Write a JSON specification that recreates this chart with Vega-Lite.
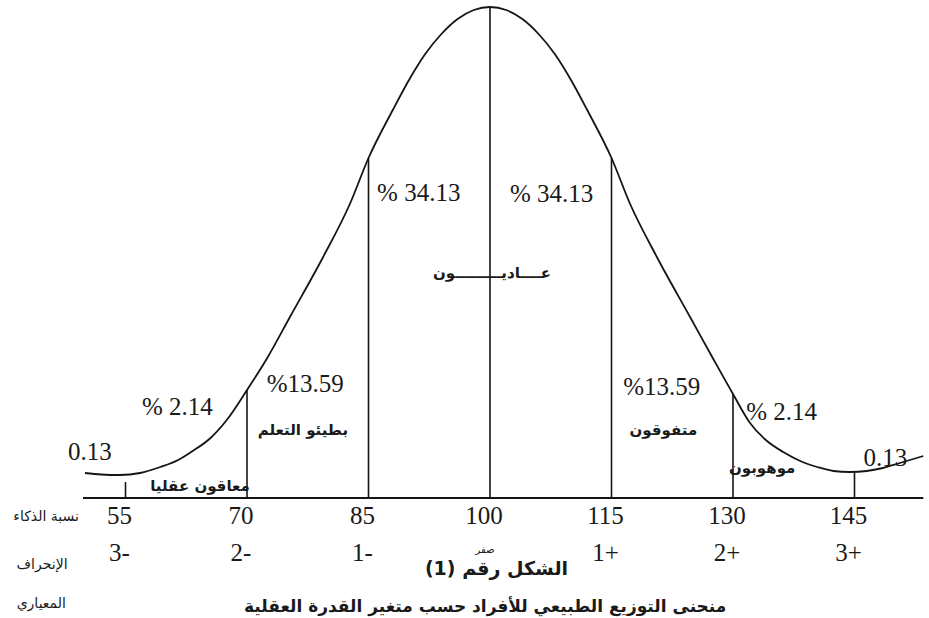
{
  "$schema": "https://vega.github.io/schema/vega-lite/v6.json",
  "width": 929,
  "height": 618,
  "autosize": "none",
  "padding": 0,
  "background": "#ffffff",
  "config": {"view": {"stroke": null}},
  "datasets": {
    "curve": [
      {"iq": 50.0, "height": 25}, {"iq": 52.0, "height": 23.5}, {"iq": 54.3, "height": 23},
      {"iq": 56.8, "height": 25}, {"iq": 59.3, "height": 31}, {"iq": 61.5, "height": 38},
      {"iq": 63.3, "height": 47}, {"iq": 65.5, "height": 60}, {"iq": 67.5, "height": 78},
      {"iq": 70, "height": 108}, {"iq": 72.5, "height": 140}, {"iq": 75.3, "height": 181},
      {"iq": 79.4, "height": 241}, {"iq": 82.7, "height": 294}, {"iq": 85, "height": 340},
      {"iq": 88, "height": 388}, {"iq": 90, "height": 418}, {"iq": 92, "height": 444},
      {"iq": 94, "height": 464}, {"iq": 96, "height": 479}, {"iq": 98, "height": 488},
      {"iq": 100, "height": 491},
      {"iq": 102, "height": 488}, {"iq": 104, "height": 479}, {"iq": 106, "height": 464},
      {"iq": 108, "height": 444}, {"iq": 110, "height": 418}, {"iq": 112, "height": 388},
      {"iq": 115, "height": 340}, {"iq": 117.3, "height": 294}, {"iq": 120.6, "height": 241},
      {"iq": 124.7, "height": 181}, {"iq": 127.5, "height": 140}, {"iq": 130, "height": 104},
      {"iq": 132.1, "height": 75}, {"iq": 134.2, "height": 57}, {"iq": 136.2, "height": 46},
      {"iq": 138.3, "height": 37}, {"iq": 140.4, "height": 31}, {"iq": 142.4, "height": 27},
      {"iq": 144.4, "height": 26}, {"iq": 146.5, "height": 27}, {"iq": 148.5, "height": 30},
      {"iq": 150.6, "height": 35}, {"iq": 153.5, "height": 42}
    ],
    "baseline": [{"from": 49.75, "to": 153.5, "level": 0}],
    "ticks": [
      {"iq": 55, "top": 16, "bottom": 0},
      {"iq": 70, "top": 108, "bottom": 0},
      {"iq": 85, "top": 340, "bottom": 0},
      {"iq": 100, "top": 491, "bottom": 0},
      {"iq": 115, "top": 340, "bottom": 0},
      {"iq": 130, "top": 104, "bottom": 0},
      {"iq": 145, "top": 26, "bottom": 0}
    ],
    "pct": [
      {"iq": 50.6, "height": 46, "label": "0.13"},
      {"iq": 61.4, "height": 91, "label": "% 2.14"},
      {"iq": 77.2, "height": 114, "label": "%13.59"},
      {"iq": 91.2, "height": 305, "label": "% 34.13"},
      {"iq": 107.6, "height": 304, "label": "% 34.13"},
      {"iq": 121.2, "height": 111, "label": "%13.59"},
      {"iq": 136.0, "height": 86, "label": "% 2.14"},
      {"iq": 148.8, "height": 40, "label": "0.13"}
    ],
    "groups": [
      {"iq": 64.2, "height": 12, "label": "معاقون عقليا"},
      {"iq": 76.9, "height": 68, "label": "بطيئو التعلم"},
      {"iq": 100.25, "height": 225, "label": "عــــاديـــــــــون"},
      {"iq": 121.4, "height": 68, "label": "متفوقون"},
      {"iq": 133.6, "height": 30, "label": "موهوبون"}
    ],
    "axisTitles": [
      {"iq": 45.2, "height": -19, "label": "نسبة الذكاء"},
      {"iq": 44.7, "height": -67, "label": "الإنحراف"},
      {"iq": 44.6, "height": -106, "label": "المعياري"}
    ],
    "tickRows": [
      {"iq": 55, "row": -18, "label": "55", "kind": "num"},
      {"iq": 70, "row": -18, "label": "70", "kind": "num"},
      {"iq": 85, "row": -18, "label": "85", "kind": "num"},
      {"iq": 100, "row": -18, "label": "100", "kind": "num"},
      {"iq": 115, "row": -18, "label": "115", "kind": "num"},
      {"iq": 130, "row": -18, "label": "130", "kind": "num"},
      {"iq": 145, "row": -18, "label": "145", "kind": "num"},
      {"iq": 55, "row": -55, "label": "3-", "kind": "num"},
      {"iq": 70, "row": -55, "label": "2-", "kind": "num"},
      {"iq": 85, "row": -55, "label": "1-", "kind": "num"},
      {"iq": 100, "row": -52, "label": "صفر", "kind": "word"},
      {"iq": 115, "row": -55, "label": "1+", "kind": "num"},
      {"iq": 130, "row": -55, "label": "2+", "kind": "num"},
      {"iq": 145, "row": -55, "label": "3+", "kind": "num"}
    ],
    "captions": [
      {"iq": 100.8, "height": -71, "label": "الشكل رقم (1)", "kind": "figure"},
      {"iq": 99.4, "height": -109, "label": "منحنى التوزيع الطبيعي للأفراد حسب متغير القدرة العقلية", "kind": "title"}
    ]
  },
  "encoding": {
    "x": {"type": "quantitative", "scale": {"domain": [39.506, 154.198], "nice": false, "zero": false}, "axis": null},
    "y": {"type": "quantitative", "scale": {"domain": [-120, 498], "nice": false, "zero": false}, "axis": null}
  },
  "layer": [
    {
      "data": {"name": "curve"},
      "mark": {"type": "line", "interpolate": "monotone", "color": "#151515", "strokeWidth": 1.8},
      "encoding": {
        "x": {"field": "iq", "type": "quantitative"},
        "y": {"field": "height", "type": "quantitative"}
      }
    },
    {
      "data": {"name": "baseline"},
      "mark": {"type": "rule", "color": "#151515", "strokeWidth": 2},
      "encoding": {
        "x": {"field": "from", "type": "quantitative"},
        "x2": {"field": "to"},
        "y": {"field": "level", "type": "quantitative"}
      }
    },
    {
      "data": {"name": "ticks"},
      "mark": {"type": "rule", "color": "#151515", "strokeWidth": 1.6},
      "encoding": {
        "x": {"field": "iq", "type": "quantitative"},
        "y": {"field": "top", "type": "quantitative"},
        "y2": {"field": "bottom"}
      }
    },
    {
      "data": {"name": "tickRows"},
      "transform": [{"filter": "datum.kind === 'num'"}],
      "mark": {"type": "text", "font": "Liberation Serif", "fontSize": 25, "color": "#1a1a1a", "baseline": "middle", "align": "center", "dx": -6},
      "encoding": {
        "x": {"field": "iq", "type": "quantitative"},
        "y": {"field": "row", "type": "quantitative"},
        "text": {"field": "label", "type": "nominal"}
      }
    },
    {
      "data": {"name": "tickRows"},
      "transform": [{"filter": "datum.kind === 'word'"}],
      "mark": {"type": "text", "font": "DejaVu Sans", "fontSize": 10, "color": "#1a1a1a", "baseline": "middle", "align": "center", "dx": -5},
      "encoding": {
        "x": {"field": "iq", "type": "quantitative"},
        "y": {"field": "row", "type": "quantitative"},
        "text": {"field": "label", "type": "nominal"}
      }
    },
    {
      "data": {"name": "pct"},
      "mark": {"type": "text", "font": "Liberation Serif", "fontSize": 25, "color": "#1a1a1a", "baseline": "middle", "align": "center"},
      "encoding": {
        "x": {"field": "iq", "type": "quantitative"},
        "y": {"field": "height", "type": "quantitative"},
        "text": {"field": "label", "type": "nominal"}
      }
    },
    {
      "data": {"name": "groups"},
      "mark": {"type": "text", "font": "DejaVu Sans", "fontSize": 15, "fontWeight": "bold", "color": "#1a1a1a", "baseline": "middle", "align": "center"},
      "encoding": {
        "x": {"field": "iq", "type": "quantitative"},
        "y": {"field": "height", "type": "quantitative"},
        "text": {"field": "label", "type": "nominal"}
      }
    },
    {
      "data": {"name": "axisTitles"},
      "mark": {"type": "text", "font": "DejaVu Sans", "fontSize": 14, "color": "#1a1a1a", "baseline": "middle", "align": "center"},
      "encoding": {
        "x": {"field": "iq", "type": "quantitative"},
        "y": {"field": "height", "type": "quantitative"},
        "text": {"field": "label", "type": "nominal"}
      }
    },
    {
      "data": {"name": "captions"},
      "transform": [{"filter": "datum.kind === 'figure'"}],
      "mark": {"type": "text", "font": "DejaVu Sans", "fontSize": 19, "fontWeight": "bold", "color": "#1a1a1a", "baseline": "middle", "align": "center"},
      "encoding": {
        "x": {"field": "iq", "type": "quantitative"},
        "y": {"field": "height", "type": "quantitative"},
        "text": {"field": "label", "type": "nominal"}
      }
    },
    {
      "data": {"name": "captions"},
      "transform": [{"filter": "datum.kind === 'title'"}],
      "mark": {"type": "text", "font": "DejaVu Sans", "fontSize": 17, "fontWeight": "bold", "color": "#1a1a1a", "baseline": "middle", "align": "center"},
      "encoding": {
        "x": {"field": "iq", "type": "quantitative"},
        "y": {"field": "height", "type": "quantitative"},
        "text": {"field": "label", "type": "nominal"}
      }
    }
  ]
}
